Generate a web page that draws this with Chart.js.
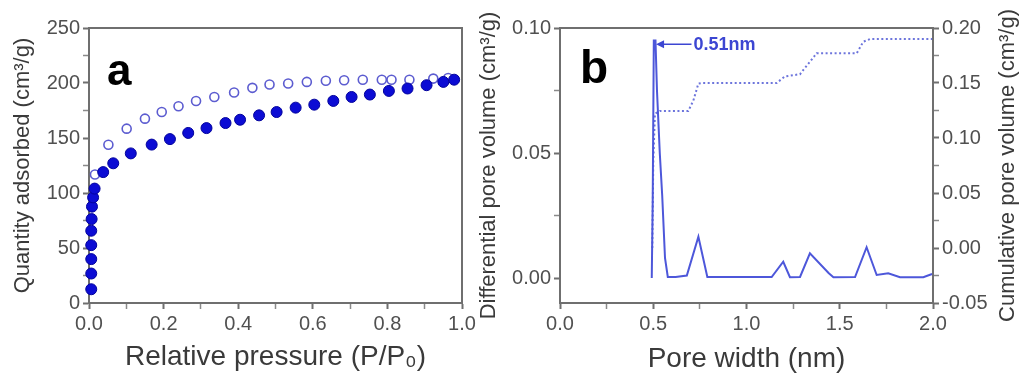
<!DOCTYPE html>
<html lang="en">
<head>
    <meta charset="UTF-8">
    <title>Isotherm and pore size distribution</title>
    <script src="https://cdn.jsdelivr.net/npm/chart.js"></script>
    <style>
        html, body { margin: 0; padding: 0; background: #fff; }
        #wrap { position: relative; width: 1023px; height: 382px; overflow: hidden; background: #fff; }
        #isoChart { position: absolute; left: 0; top: 0; }
        #poreChart { position: absolute; left: 470px; top: 0; }
    </style>
</head>
<body>

<div id="wrap">
    <canvas id="isoChart" width="480" height="382"></canvas>
    <canvas id="poreChart" width="553" height="382"></canvas>
</div>

<script>
// (a) isotherm: adsorption branch (filled) and desorption branch (open)
const adsPressure = [0.006, 0.006, 0.006, 0.006, 0.006, 0.007, 0.008, 0.011, 0.015, 0.038, 0.065, 0.112, 0.168, 0.217, 0.266, 0.315, 0.366, 0.405, 0.456, 0.503, 0.554, 0.604, 0.655, 0.704, 0.753, 0.804, 0.854, 0.905, 0.95, 0.979];
const adsQuantity = [12.5, 26.8, 39.9, 52.6, 65.7, 76.3, 87.6, 96, 104, 119, 127, 136, 144, 149, 154.6, 159, 163.6, 166.6, 170.6, 173.6, 177.6, 180.3, 183.7, 187.3, 189.5, 192.8, 195, 198, 201, 203];
const desPressure = [0.016, 0.052, 0.101, 0.15, 0.195, 0.24, 0.287, 0.336, 0.389, 0.438, 0.484, 0.534, 0.584, 0.635, 0.684, 0.734, 0.785, 0.811, 0.859, 0.923, 0.963];
const desQuantity = [116.8, 143.9, 158.5, 167.6, 173.6, 178.8, 183.7, 187.3, 191.3, 195.6, 198.6, 199.5, 201, 202, 202.5, 203, 203, 203, 203, 204, 204.6];

// (b) pore size distribution: differential (left axis) and cumulative (right axis)
const poreWidth = [0.492, 0.497, 0.503, 0.512, 0.52, 0.535, 0.548, 0.563, 0.578, 0.62, 0.68, 0.742, 0.79, 0.9, 1.0, 1.135, 1.197, 1.233, 1.287, 1.34, 1.44, 1.466, 1.582, 1.644, 1.698, 1.76, 1.823, 1.948, 1.995];
const diffVolume = [0, 0.03, 0.095, 0.095, 0.075, 0.05, 0.033, 0.008, 0.0004, 0.0004, 0.001, 0.0165, 0.0004, 0.0004, 0.0004, 0.0004, 0.0065, 0.0003, 0.0004, 0.0099, 0.002, 0.0003, 0.0004, 0.0123, 0.0012, 0.0019, 0.0003, 0.0003, 0.0016];
const cumWidth = [0.495, 0.50, 0.509, 0.536, 0.688, 0.715, 0.742, 0.76, 1.162, 1.206, 1.287, 1.305, 1.367, 1.376, 1.591, 1.626, 1.662, 1.995];
const cumVolume = [0, 0.077, 0.122, 0.1246, 0.1246, 0.134, 0.1495, 0.150, 0.150, 0.156, 0.158, 0.162, 0.175, 0.177, 0.177, 0.1875, 0.19, 0.19];

// tick labels (minor ticks go half way between)
const pressureTicks = [0, 0.2, 0.4, 0.6, 0.8, 1.0];
const quantityTicks = [0, 50, 100, 150, 200, 250];
const widthTicks = [0, 0.5, 1.0, 1.5, 2.0];
const diffTicks = [0, 0.05, 0.10];
const cumTicks = [-0.05, 0, 0.05, 0.10, 0.15, 0.20];

const peakLabel = '0.51nm';

const FONT = "'Liberation Sans', Arial, 'DejaVu Sans', sans-serif";
const axisColor = '#6f6f6f';
const tickText = '#505050';
const titleText = '#3a3a3a';
Chart.defaults.font.family = FONT;

function isMajor(list, v) {
    return list.some(m => Math.abs(m - v) < 1e-9);
}

// builds an axis with labelled major ticks and unlabelled minor ticks
function makeAxis(major, digits, extra) {
    return Object.assign({
        type: 'linear',
        afterBuildTicks: scale => {
            const all = [];
            major.forEach((v, i) => {
                all.push(v);
                if (i < major.length - 1) all.push((v + major[i + 1]) / 2);
            });
            scale.ticks = all.map(v => ({ value: v }));
        },
        ticks: {
            autoSkip: false,
            maxRotation: 0,
            color: tickText,
            font: { size: 20 },
            callback: v => isMajor(major, v) ? v.toFixed(digits) : ''
        },
        grid: {
            drawOnChartArea: false,
            drawTicks: true,
            tickLength: 6,
            tickColor: ctx => isMajor(major, ctx.tick.value) ? axisColor : '#8a8a8a',
            tickWidth: ctx => isMajor(major, ctx.tick.value) ? 2 : 1.5
        },
        border: { display: true, color: axisColor, width: 2 }
    }, extra);
}

// draws top/right frame lines and the panel letter
const framePlugin = {
    id: 'frame',
    afterDraw(chart, args, opts) {
        const { ctx, chartArea: a } = chart;
        ctx.save();
        ctx.strokeStyle = axisColor;
        ctx.lineWidth = 2;
        ctx.beginPath();
        ctx.moveTo(a.left, a.top);
        ctx.lineTo(a.right, a.top);
        if (opts.right) ctx.lineTo(a.right, a.bottom);
        ctx.stroke();
        ctx.fillStyle = '#000';
        ctx.font = 'bold ' + opts.size + 'px ' + FONT;
        ctx.textBaseline = 'alphabetic';
        ctx.fillText(opts.letter, a.left + opts.dx, a.top + opts.dy);
        ctx.restore();
    }
};

// arrow + label for the main peak, and the right axis title (reads bottom to top)
const peakPlugin = {
    id: 'peak',
    afterDraw(chart, args, opts) {
        const { ctx, scales } = chart;
        const x0 = scales.x.getPixelForValue(opts.tip);
        const x1 = scales.x.getPixelForValue(opts.tail);
        const y = scales.y.getPixelForValue(opts.level);
        ctx.save();
        ctx.strokeStyle = '#3c46d2';
        ctx.fillStyle = '#3c46d2';
        ctx.lineWidth = 1.5;
        ctx.beginPath();
        ctx.moveTo(x1, y);
        ctx.lineTo(x0 + 6, y);
        ctx.stroke();
        ctx.beginPath();
        ctx.moveTo(x0, y);
        ctx.lineTo(x0 + 8, y - 4);
        ctx.lineTo(x0 + 8, y + 4);
        ctx.closePath();
        ctx.fill();
        ctx.font = 'bold 18px ' + FONT;
        ctx.textBaseline = 'middle';
        ctx.fillText(peakLabel, x1 + 2, y + 1);

        const a = chart.chartArea;
        ctx.translate(chart.width - 15, (a.top + a.bottom) / 2);
        ctx.rotate(-Math.PI / 2);
        ctx.textAlign = 'center';
        ctx.textBaseline = 'middle';
        ctx.fillStyle = titleText;
        ctx.font = '22px ' + FONT;
        ctx.fillText('Cumulative pore volume (cm³/g)', 0, 0);
        ctx.restore();
    }
};

new Chart(document.getElementById('isoChart'), {
    type: 'scatter',
    data: {
        datasets: [
            {
                label: 'Adsorption',
                data: adsPressure.map((p, i) => ({ x: p, y: adsQuantity[i] })),
                pointRadius: 5.5,
                backgroundColor: '#0c0cd4',
                borderColor: '#02029c',
                borderWidth: 1,
                clip: false,
                order: 1
            },
            {
                label: 'Desorption',
                data: desPressure.map((p, i) => ({ x: p, y: desQuantity[i] })),
                pointRadius: 4.5,
                backgroundColor: 'rgba(255,255,255,0)',
                borderColor: '#5c5cd0',
                borderWidth: 1.6,
                clip: false,
                order: 2
            }
        ]
    },
    options: {
        responsive: false,
        animation: false,
        layout: { padding: { top: 28, right: 18, left: 0, bottom: 0 } },
        plugins: {
            legend: { display: false },
            tooltip: { enabled: false },
            frame: { right: true, letter: 'a', size: 44, dx: 18, dy: 57 }
        },
        scales: {
            x: makeAxis(pressureTicks, 1, {
                min: 0, max: 1,
                afterFit: s => { s.height = 79; },
                title: {
                    display: true, text: 'Relative pressure (P/P₀)', color: titleText,
                    font: { size: 28, lineHeight: 1.2 }, padding: { top: 0, bottom: 8 }
                }
            }),
            y: makeAxis(quantityTicks, 0, {
                min: 0, max: 250,
                afterFit: s => { s.width = 89; },
                title: {
                    display: true, text: 'Quantity adsorbed (cm³/g)', color: titleText,
                    font: { size: 22, lineHeight: 1.2 }, padding: { top: 10, bottom: 0 }
                }
            })
        }
    },
    plugins: [framePlugin]
});

new Chart(document.getElementById('poreChart'), {
    type: 'scatter',
    data: {
        datasets: [
            {
                label: 'Differential pore volume',
                data: poreWidth.map((w, i) => ({ x: w, y: diffVolume[i] })),
                showLine: true,
                pointRadius: 0,
                borderColor: '#4d57da',
                borderWidth: 2,
                tension: 0,
                yAxisID: 'y',
                order: 1
            },
            {
                label: 'Cumulative pore volume',
                data: cumWidth.map((w, i) => ({ x: w, y: cumVolume[i] })),
                showLine: true,
                pointRadius: 0,
                borderColor: '#6d75dc',
                borderWidth: 2,
                borderDash: [2, 2.5],
                tension: 0,
                yAxisID: 'y2',
                order: 2
            }
        ]
    },
    options: {
        responsive: false,
        animation: false,
        layout: { padding: { top: 28, right: 0, left: 0, bottom: 0 } },
        plugins: {
            legend: { display: false },
            tooltip: { enabled: false },
            frame: { right: false, letter: 'b', size: 46, dx: 20, dy: 55 },
            peak: { tip: 0.515, tail: 0.705, level: 0.0935 }
        },
        scales: {
            x: makeAxis(widthTicks, 1, {
                min: 0, max: 2,
                afterFit: s => { s.height = 79; },
                title: {
                    display: true, text: 'Pore width (nm)', color: titleText,
                    font: { size: 28, lineHeight: 1.2 }, padding: { top: 0, bottom: 6 }
                }
            }),
            y: makeAxis(diffTicks, 2, {
                min: -0.01, max: 0.10,
                position: 'left',
                afterFit: s => { s.width = 90; },
                title: {
                    display: true, text: 'Differential pore volume (cm³/g)', color: titleText,
                    font: { size: 22, lineHeight: 1.2 }, padding: { top: 6, bottom: 0 }
                }
            }),
            y2: makeAxis(cumTicks, 2, {
                min: -0.05, max: 0.20,
                position: 'right',
                afterFit: s => { s.width = 90; }
            })
        }
    },
    plugins: [framePlugin, peakPlugin]
});
</script>

</body>
</html>
